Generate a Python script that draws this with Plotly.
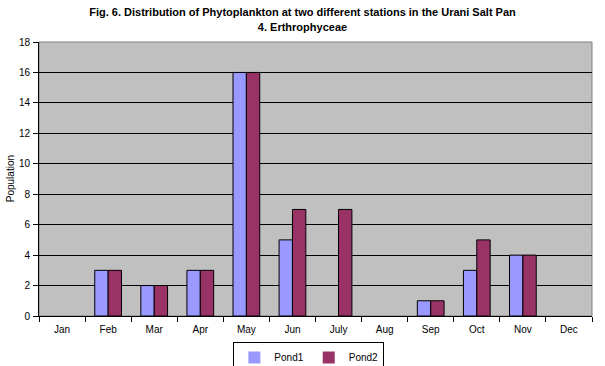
import plotly.graph_objects as go

months = ["Jan", "Feb", "Mar", "Apr", "May", "Jun", "July", "Aug", "Sep", "Oct", "Nov", "Dec"]
pond1 = [0, 3, 2, 3, 16, 5, 0, 0, 1, 3, 4, 0]
pond2 = [0, 3, 2, 3, 16, 7, 7, 0, 1, 5, 4, 0]
yticks = [0, 2, 4, 6, 8, 10, 12, 14, 16, 18]

font = "Liberation Sans, Arial, sans-serif"


def outline(vals):
    return [0 if v == 0 else 1 for v in vals]


fig = go.Figure()
fig.add_trace(go.Bar(x=months, y=pond1, name="Pond1",
                     marker=dict(color="#9999FF", line=dict(color="black", width=outline(pond1)))))
fig.add_trace(go.Bar(x=months, y=pond2, name="Pond2",
                     marker=dict(color="#993366", line=dict(color="black", width=outline(pond2)))))

fig.update_layout(
    width=605, height=366,
    margin=dict(l=39, r=13, t=42, b=50, autoexpand=False),
    paper_bgcolor="white",
    plot_bgcolor="#C0C0C0",
    font=dict(family=font, size=10, color="black"),
    title=dict(text="<b>Fig. 6. Distribution of Phytoplankton at two different stations in the Urani Salt Pan<br>4. Erthrophyceae</b>",
               x=0.5, xanchor="center", y=0.955, yanchor="top",
               font=dict(family=font, size=11, color="black")),
    barmode="group", bargap=0.42, bargroupgap=0,
    showlegend=True,
    legend=dict(orientation="h", x=0.488, xanchor="center", y=-0.095, yanchor="top",
                bordercolor="black", borderwidth=1, bgcolor="white",
                font=dict(family=font, size=10), traceorder="normal",
                itemwidth=30, tracegroupgap=0),
    xaxis=dict(showgrid=False, ticks="outside", tickson="boundaries", ticklen=5,
               tickcolor="black", showline=True, linecolor="black", linewidth=1,
               mirror=False, tickfont=dict(size=10), automargin=False,
               ticklabelstandoff=4),
    yaxis=dict(range=[0, 18], tickvals=yticks, showgrid=True, gridcolor="black", gridwidth=1,
               ticks="outside", ticklen=5, tickcolor="black", showline=True, linecolor="black",
               zeroline=False, automargin=False, tickfont=dict(size=10),
               ticklabelstandoff=1),
    annotations=[dict(text="Population", textangle=-90, xref="paper", yref="paper",
                      x=-0.052, y=0.5, xanchor="center", yanchor="middle",
                      showarrow=False, font=dict(family=font, size=10))],
)
# plot border
fig.add_shape(type="rect", xref="paper", yref="paper", x0=0, y0=0, x1=1, y1=1,
              line=dict(color="#808080", width=1), layer="below")

fig.write_html("out.html", config={"displayModeBar": False},
               post_script="document.body.style.margin='0';document.body.style.overflow='hidden';")
